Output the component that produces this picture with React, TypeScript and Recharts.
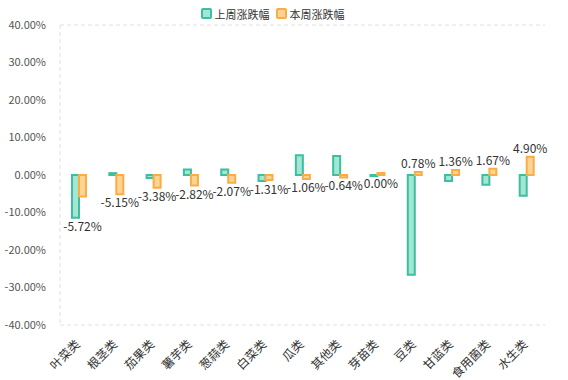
import { BarChart, Bar, XAxis, YAxis, CartesianGrid, Legend, LabelList } from 'recharts';

const CATEGORIES = ['叶菜类', '根茎类', '茄果类', '薯芋类', '葱蒜类', '白菜类', '瓜类', '其他类', '芽苗类', '豆类', '甘蓝类', '食用菌类', '水生类'];
const LAST_WEEK = [-11.4, 0.5, -0.8, 1.5, 1.5, -1.6, 5.3, 5.1, -0.3, -26.6, -1.6, -2.6, -5.5];
const THIS_WEEK = [-5.72, -5.15, -3.38, -2.82, -2.07, -1.31, -1.06, -0.64, 0.0, 0.78, 1.36, 1.67, 4.9];
const Y_TICKS = [-40, -30, -20, -10, 0, 10, 20, 30, 40];

const SERIES = [
  { key: 'last', name: '上周涨跌幅', stroke: '#3cbfa0', fill: '#a3e6d3' },
  { key: 'cur', name: '本周涨跌幅', stroke: '#f9ad44', fill: '#ffd394' },
];

const FONT = '"Noto Sans CJK SC", "Microsoft YaHei", sans-serif';

const data = CATEGORIES.map((name, i) => ({ name, last: LAST_WEEK[i], cur: THIS_WEEK[i] }));

function LegendContent() {
  return (
    <div style={{ display: 'flex', justifyContent: 'center', gap: 6, fontFamily: FONT, fontSize: 11, color: '#333', height: 15 }}>
      {SERIES.map((s) => (
        <div key={s.key} style={{ display: 'flex', alignItems: 'center' }}>
          <span
            style={{
              width: 7,
              height: 7,
              border: `2px solid ${s.stroke}`,
              background: s.fill,
              borderRadius: 2,
              marginRight: 3,
            }}
          />
          {s.name}
        </div>
      ))}
    </div>
  );
}

// label sits past the far end of the pair (below lower bar for negatives)
function ValueLabel(props: any) {
  const { x, y, width, height, value, index } = props;
  const top = Math.min(y, y + height);
  const bottom = Math.max(y, y + height);
  const cx = x + width / 2;
  const text = `${Number(value).toFixed(2)}%`;
  if (value > 0) {
    return (
      <text x={cx} y={top - 4} textAnchor="middle" fontSize={12} fill="#333" fontFamily={FONT}>
        {text}
      </text>
    );
  }
  let end = value === 0 ? y + height : bottom;
  const other = LAST_WEEK[index];
  if (value < 0 && other < value) {
    const ppu = Math.abs(height) / Math.abs(value);
    end = top + Math.abs(other) * ppu;
  }
  return (
    <text x={cx} y={end + 13} textAnchor="middle" fontSize={12} fill="#333" fontFamily={FONT}>
      {text}
    </text>
  );
}

function XTick(props: any) {
  const { x, y, payload } = props;
  return (
    <text
      x={x + 2}
      y={y + 12}
      textAnchor="end"
      fontSize={12}
      fill="#333"
      fontFamily={FONT}
      transform={`rotate(-45, ${x + 2}, ${y + 12})`}
    >
      {payload.value}
    </text>
  );
}

export default function App() {
  return (
    <div style={{ width: 568, height: 380, background: '#fff' }}>
      <style>{`body { margin: 0; }`}</style>
      <BarChart
        width={568}
        height={380}
        data={data}
        margin={{ top: 10, right: 23, bottom: 25, left: 0 }}
        barGap={0}
        barCategoryGap="40%"
      >
        <CartesianGrid stroke="#e0e0e0" strokeDasharray="4 3" vertical={false} />
        <XAxis
          dataKey="name"
          interval={0}
          axisLine={false}
          tickLine={false}
          tick={<XTick />}
        />
        <YAxis
          yAxisId="left"
          domain={[-40, 40]}
          ticks={Y_TICKS}
          width={60}
          tickLine={false}
          axisLine={{ stroke: '#e0e0e0', strokeDasharray: '4 3' }}
          tickMargin={8}
          tick={{ fontSize: 11, fill: '#555', fontFamily: FONT }}
          tickFormatter={(v: number) => `${v.toFixed(2)}%`}
        />
        <YAxis
          yAxisId="right"
          orientation="right"
          domain={[-40, 40]}
          width={0}
          tick={false}
          tickLine={false}
          axisLine={{ stroke: '#e0e0e0', strokeDasharray: '4 3' }}
        />
        <Legend verticalAlign="top" align="center" content={<LegendContent />} wrapperStyle={{ top: 6 }} />
        <Bar
          yAxisId="left"
          dataKey="last"
          name={SERIES[0].name}
          fill={SERIES[0].fill}
          stroke={SERIES[0].stroke}
          strokeWidth={2}
          barSize={7}
          isAnimationActive={false}
        />
        <Bar
          yAxisId="left"
          dataKey="cur"
          name={SERIES[1].name}
          fill={SERIES[1].fill}
          stroke={SERIES[1].stroke}
          strokeWidth={2}
          barSize={7}
          minPointSize={2}
          isAnimationActive={false}
        >
          <LabelList dataKey="cur" content={<ValueLabel />} />
        </Bar>
      </BarChart>
    </div>
  );
}
